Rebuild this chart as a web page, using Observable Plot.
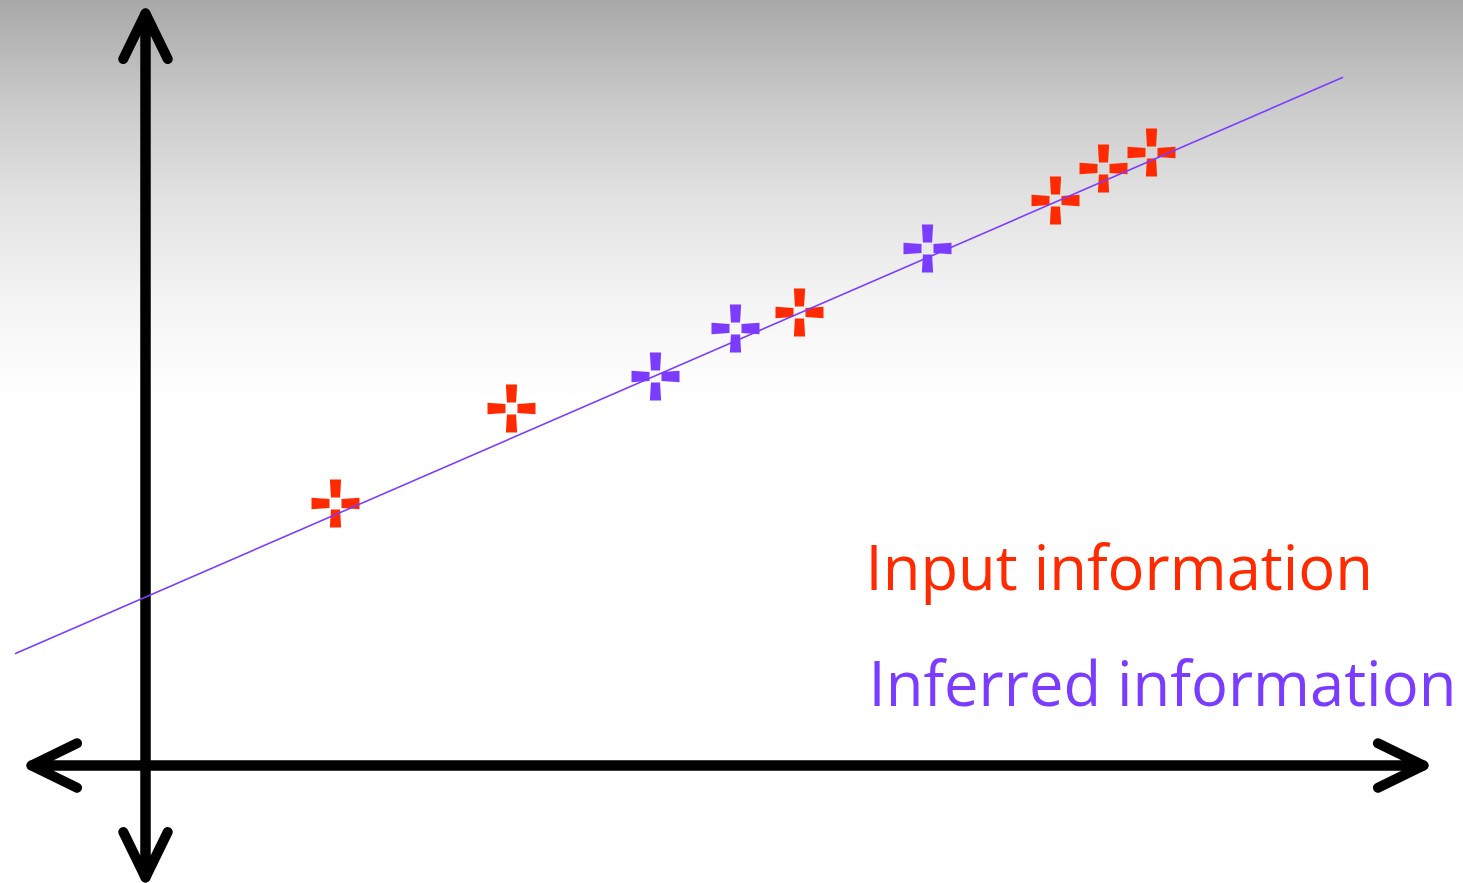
<!DOCTYPE html>
<html>
<head>
<meta charset="utf-8">
<script src="https://cdn.jsdelivr.net/npm/d3@7"></script>
<script src="https://cdn.jsdelivr.net/npm/@observablehq/plot@0.6"></script>
<style>
  html, body { margin: 0; padding: 0; }
  body {
    width: 1463px; height: 883px; overflow: hidden;
    background: linear-gradient(to bottom, #a8a8a8 0px, #c9c9c9 100px, #e2e2e2 200px, #f4f4f4 300px, #ffffff 400px, #ffffff 883px);
  }
  #chart svg { display: block; background: transparent; }
</style>
</head>
<body>
<div id="chart"></div>
<script>
// ---- data (chart units: origin at the axes' crossing) ----
const inputX = [1.90, 3.66, 6.54, 9.10, 9.58, 10.06];
const inputY = [2.62, 3.57, 4.53, 5.65, 5.97, 6.13];
const inferredX = [5.10, 5.90, 7.82];
const inferredY = [3.89, 4.37, 5.17];
const fitX = [-1.30, 11.97];
const fitY = [1.12, 6.88];
// axes extents (arrow tips)
const axisXRange = [-1.14, 12.78];
const axisYRange = [-1.12, 7.52];
const labels = ["Input information", "Inferred information"];
const labelX = [7.20, 7.23];
const labelY = [1.95, 0.79];

const RED = "#ff2a00";
const PURPLE = "#7b3cff";

const inputPts = inputX.map((x, i) => ({x, y: inputY[i]}));
const inferredPts = inferredX.map((x, i) => ({x, y: inferredY[i]}));
const fitPts = fitX.map((x, i) => ({x, y: fitY[i]}));
const axisArrows = [
  {x1: axisXRange[0], y1: 0, x2: axisXRange[1], y2: 0},
  {x1: axisXRange[1], y1: 0, x2: axisXRange[0], y2: 0},
  {x1: 0, y1: axisYRange[0], x2: 0, y2: axisYRange[1]},
  {x1: 0, y1: axisYRange[1], x2: 0, y2: axisYRange[0]}
];
const labelData = labels.map((t, i) => ({t, x: labelX[i], y: labelY[i], c: i === 0 ? RED : PURPLE}));

// four-bar "sparkle" cross symbol
const crossSymbol = {
  draw(context, size) {
    const r = Math.sqrt(size / Math.PI);
    const inner = 0.25 * r, wi = 0.19 * r, wo = 0.235 * r;
    const bar = (ax, ay, px, py) => {
      context.moveTo(ax * inner + px * wi, ay * inner + py * wi);
      context.lineTo(ax * r + px * wo, ay * r + py * wo);
      context.lineTo(ax * r - px * wo, ay * r - py * wo);
      context.lineTo(ax * inner - px * wi, ay * inner - py * wi);
      context.closePath();
    };
    bar(0, -1, 1, 0);
    bar(0, 1, 1, 0);
    bar(-1, 0, 0, 1);
    bar(1, 0, 0, 1);
  }
};

const chart = Plot.plot({
  width: 1463,
  height: 883,
  margin: 0,
  x: {domain: [-1.45, 13.18], axis: null},
  y: {domain: [-1.18, 7.65], axis: null},
  style: {background: "transparent"},
  marks: [
    Plot.arrow(axisArrows, {
      x1: "x1", y1: "y1", x2: "x2", y2: "y2",
      stroke: "black", strokeWidth: 10, headLength: 7.6, headAngle: 52,
      strokeLinecap: "round", strokeLinejoin: "round"
    }),
    Plot.dot(inputPts, {x: "x", y: "y", r: 24, symbol: crossSymbol, fill: RED, stroke: "none"}),
    Plot.dot(inferredPts, {x: "x", y: "y", r: 24, symbol: crossSymbol, fill: PURPLE, stroke: "none"}),
    Plot.line(fitPts, {x: "x", y: "y", stroke: PURPLE, strokeWidth: 1.6}),
    Plot.text(labelData, {
      x: "x", y: "y", text: "t", fill: "c", textAnchor: "start", lineAnchor: "middle",
      fontSize: 61.5, fontFamily: "'Open Sans', 'Noto Sans', sans-serif"
    })
  ]
});
document.getElementById("chart").appendChild(chart);
</script>
</body>
</html>
